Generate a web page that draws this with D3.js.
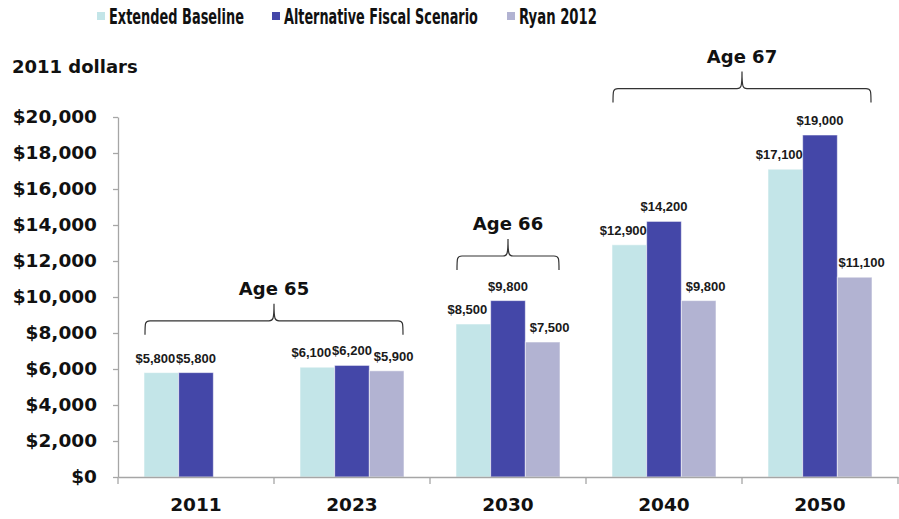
<!DOCTYPE html>
<html>
<head>
<meta charset="utf-8">
<script src="https://cdn.jsdelivr.net/npm/d3@7"></script>
<style>
  html, body { margin: 0; padding: 0; background: #fff; }
  svg { display: block; }
  .bold { font-family: "DejaVu Sans", Verdana, sans-serif; font-weight: bold; fill: #111; }
  .val { font-family: "Liberation Sans", Arial, sans-serif; font-weight: bold; font-size: 13px; fill: #1a1a1a; }
</style>
</head>
<body>
<svg id="chart" width="899" height="519"></svg>
<script>
// Average annual benefit per beneficiary, 2011 dollars
const categories = ["2011", "2023", "2030", "2040", "2050"];
const seriesNames = ["Extended Baseline", "Alternative Fiscal Scenario", "Ryan 2012"];
const extendedBaseline = [5800, 6100, 8500, 12900, 17100];
const alternativeFiscal = [5800, 6200, 9800, 14200, 19000];
const ryan2012 = [null, 5900, 7500, 9800, 11100];
const yTicks = [0, 2000, 4000, 6000, 8000, 10000, 12000, 14000, 16000, 18000, 20000];

// Eligibility-age annotations spanning groups of years
const ageLabels = ["Age 65", "Age 66", "Age 67"];
const braceFrom = ["2011", "2030", "2040"];
const braceTo = ["2023", "2030", "2050"];
const braceLevel = [7900, 11500, 20800];

const seriesValues = [extendedBaseline, alternativeFiscal, ryan2012];
const colors = ["#c3e5e8", "#4447a8", "#b2b3d2"];
const labelShift = [-6, 0, 7];

const svg = d3.select("#chart");
const plotLeft = 118, plotRight = 898, plotTop = 117, plotBottom = 477;

const x = d3.scaleBand().domain(categories).range([plotLeft, plotRight]).padding(0);
const x1 = d3.scaleBand().domain(seriesNames).range([0, x.bandwidth()])
  .paddingInner(0).paddingOuter(0.75);
const y = d3.scaleLinear().domain([0, 20000]).range([plotBottom, plotTop]);

const axisColor = "#a6a6a6";

// Y axis
const yAxis = svg.append("g")
  .attr("transform", `translate(${plotLeft},0)`)
  .call(d3.axisLeft(y).tickValues(yTicks).tickSize(5).tickSizeOuter(0).tickPadding(16)
    .tickFormat(d => "$" + d3.format(",")(d)));
yAxis.select(".domain").attr("stroke", axisColor).attr("stroke-width", 1.3);
yAxis.selectAll(".tick line").attr("stroke", axisColor).attr("stroke-width", 1.3);
yAxis.selectAll(".tick text").attr("class", "bold").style("font-size", "18.5px");

// Bars
const rows = [];
categories.forEach((c, i) => {
  seriesNames.forEach((s, j) => {
    const v = seriesValues[j][i];
    if (v != null) rows.push({ c, s, j, v });
  });
});

svg.append("g").selectAll("rect").data(rows).join("rect")
  .attr("x", d => x(d.c) + x1(d.s))
  .attr("y", d => y(d.v))
  .attr("width", x1.bandwidth())
  .attr("height", d => y(0) - y(d.v))
  .attr("fill", d => colors[d.j])
  .attr("stroke", "rgba(255,255,255,0.55)")
  .attr("stroke-width", 1);

// Value labels
svg.append("g").selectAll("text").data(rows).join("text")
  .attr("class", "val")
  .attr("text-anchor", "middle")
  .attr("x", d => x(d.c) + x1(d.s) + x1.bandwidth() / 2 + labelShift[d.j])
  .attr("y", d => y(d.v) - 10)
  .text(d => "$" + d3.format(",")(d.v));

// X axis
const xAxis = svg.append("g")
  .attr("transform", `translate(0,${plotBottom})`)
  .call(d3.axisBottom(x).tickSize(0).tickPadding(21));
xAxis.select(".domain").attr("stroke", axisColor).attr("stroke-width", 1.3);
xAxis.selectAll(".tick text").attr("class", "bold").style("font-size", "18.5px");

// Category boundary ticks
const bounds = categories.map(c => x(c)).concat([x(categories[categories.length - 1]) + x.bandwidth()]);
svg.append("g").selectAll("line").data(bounds).join("line")
  .attr("x1", d => d).attr("x2", d => d)
  .attr("y1", plotBottom).attr("y2", plotBottom + 7)
  .attr("stroke", axisColor).attr("stroke-width", 1.3);

// Curly braces with age labels
function bracePath(x0, x1b, yb) {
  const yh = yb - 14, yt = yb - 31, xm = (x0 + x1b) / 2, r = 5;
  return `M${x0},${yb} C${x0},${yh + 2} ${x0},${yh} ${x0 + r},${yh}` +
    ` L${xm - r},${yh} C${xm - 1},${yh} ${xm},${yh - 1} ${xm},${yt}` +
    ` C${xm},${yh - 1} ${xm + 1},${yh} ${xm + r},${yh}` +
    ` L${x1b - r},${yh} C${x1b},${yh} ${x1b},${yh + 2} ${x1b},${yb}`;
}
ageLabels.forEach((lab, i) => {
  const x0 = x(braceFrom[i]) + x1(seriesNames[0]) + 1;
  const xe = x(braceTo[i]) + x1(seriesNames[2]) + x1.bandwidth() - 1;
  const yb = y(braceLevel[i]);
  svg.append("path")
    .attr("d", bracePath(x0, xe, yb))
    .attr("fill", "none").attr("stroke", "#333").attr("stroke-width", 1.2);
  svg.append("text")
    .attr("class", "bold")
    .attr("text-anchor", "middle")
    .style("font-size", "18px")
    .attr("x", (x0 + xe) / 2)
    .attr("y", yb - 40)
    .text(lab);
});

// Unit label
svg.append("text").attr("class", "bold").style("font-size", "18px")
  .attr("x", 12).attr("y", 73).text("2011 dollars");

// Legend: condensed bold labels, each squeezed into its slot
const legendX = [97, 272, 507];
const legendW = [135, 194, 78];
const legend = svg.append("g");
seriesNames.forEach((s, i) => {
  legend.append("rect").attr("x", legendX[i]).attr("y", 12).attr("width", 8).attr("height", 8)
    .attr("fill", colors[i]);
  const g = legend.append("g");
  const t = g.append("text").attr("class", "bold").style("font-size", "21.5px")
    .attr("x", 0).attr("y", 0).text(s);
  const w = t.node().getComputedTextLength();
  g.attr("transform", `translate(${legendX[i] + 12},24) scale(${legendW[i] / w},1)`);
});
</script>
</body>
</html>
